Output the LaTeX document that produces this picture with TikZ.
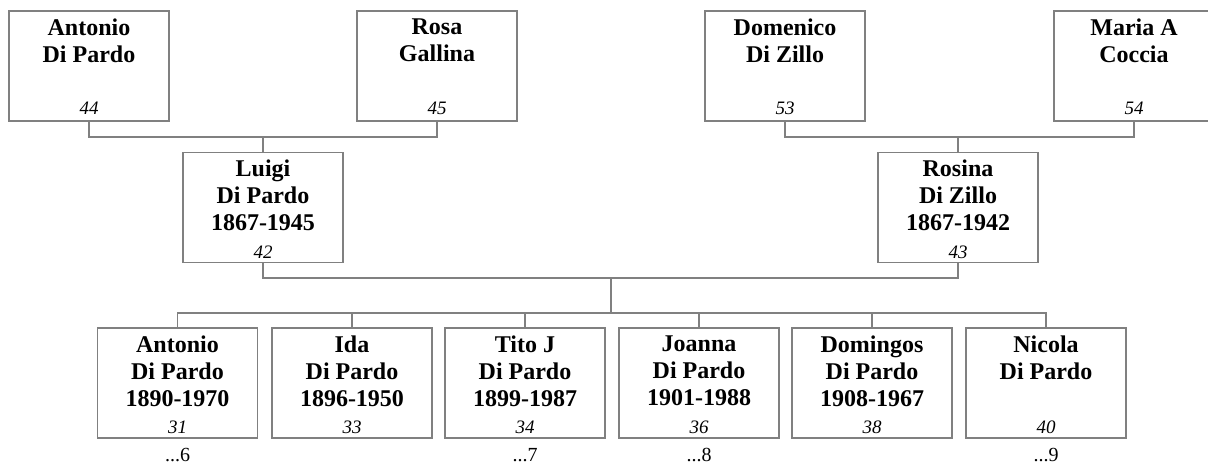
\documentclass[tikz,border=0pt]{standalone}
\usepackage{fontspec}
\setmainfont{Liberation Serif}
\definecolor{linegray}{RGB}{128,128,128}
\tikzset{
 pbox/.style={draw=linegray, line width=1.2pt, minimum width=160pt, minimum height=110pt, inner sep=0pt},
 pname/.style={anchor=north, align=center, inner sep=0pt, font=\fontsize{24}{27}\selectfont\bfseries},
 pnum/.style={anchor=base, inner sep=0pt, font=\fontsize{19}{22}\selectfont\itshape},
 pmore/.style={anchor=base, inner sep=0pt, font=\fontsize{20}{24}\selectfont},
 conn/.style={draw=linegray, line width=1.2pt},
}
\begin{document}
\begin{tikzpicture}[x=1pt,y=-1pt]
\useasboundingbox (0,0) rectangle (1208,464);
% grandparents
\node[pbox] (p44) at (89,66) {};
\node[pname] (t44) at ([yshift=-8pt]p44.north) {Antonio\\Di Pardo};
\node[pnum] (n44) at ([yshift=7pt]p44.south) {44};
\node[pbox] (p45) at (437,66) {};
\node[pname] (t45) at ([yshift=-8pt]p45.north) {Rosa\\Gallina};
\node[pnum] (n45) at ([yshift=7pt]p45.south) {45};
\node[pbox] (p53) at (785,66) {};
\node[pname] (t53) at ([yshift=-8pt]p53.north) {Domenico\\Di Zillo};
\node[pnum] (n53) at ([yshift=7pt]p53.south) {53};
\node[pbox] (p54) at (1134,66) {};
\node[pname] (t54) at ([yshift=-8pt]p54.north) {Maria A\\Coccia};
\node[pnum] (n54) at ([yshift=7pt]p54.south) {54};
% parents
\node[pbox] (p42) at (263,207.5) {};
\node[pname] (t42) at ([yshift=-8pt]p42.north) {Luigi\\Di Pardo\\1867-1945};
\node[pnum] (n42) at ([yshift=5pt]p42.south) {42};
\node[pbox] (p43) at (958,207.5) {};
\node[pname] (t43) at ([yshift=-8pt]p43.north) {Rosina\\Di Zillo\\1867-1942};
\node[pnum] (n43) at ([yshift=5pt]p43.south) {43};
% children
\node[pbox] (c31) at (177.5,383) {};
\node[pname] (t31) at ([yshift=-8pt]c31.north) {Antonio\\Di Pardo\\1890-1970};
\node[pnum] (n31) at ([yshift=5pt]c31.south) {31};
\node[pmore] (m31) at ([yshift=-23pt]c31.south) {...6};
\node[pbox] (c33) at (352,383) {};
\node[pname] (t33) at ([yshift=-8pt]c33.north) {Ida\\Di Pardo\\1896-1950};
\node[pnum] (n33) at ([yshift=5pt]c33.south) {33};
\node[pbox] (c34) at (525,383) {};
\node[pname] (t34) at ([yshift=-8pt]c34.north) {Tito J\\Di Pardo\\1899-1987};
\node[pnum] (n34) at ([yshift=5pt]c34.south) {34};
\node[pmore] (m34) at ([yshift=-23pt]c34.south) {...7};
\node[pbox] (c36) at (699,383) {};
\node[pname] (t36) at ([yshift=-8pt]c36.north) {Joanna\\Di Pardo\\1901-1988};
\node[pnum] (n36) at ([yshift=5pt]c36.south) {36};
\node[pmore] (m36) at ([yshift=-23pt]c36.south) {...8};
\node[pbox] (c38) at (872,383) {};
\node[pname] (t38) at ([yshift=-8pt]c38.north) {Domingos\\Di Pardo\\1908-1967};
\node[pnum] (n38) at ([yshift=5pt]c38.south) {38};
\node[pbox] (c40) at (1046,383) {};
\node[pname] (t40) at ([yshift=-8pt]c40.north) {Nicola\\Di Pardo};
\node[pnum] (n40) at ([yshift=5pt]c40.south) {40};
\node[pmore] (m40) at ([yshift=-23pt]c40.south) {...9};
% connectors
\coordinate (j1) at (263,137);
\coordinate (j2) at (958,137);
\coordinate (j3) at (611,278);
\coordinate (j4) at (611,313);
\draw[conn] (p44.south) |- (j1) -| (p45.south);
\draw[conn] (j1) -- (p42.north);
\draw[conn] (p53.south) |- (j2) -| (p54.south);
\draw[conn] (j2) -- (p43.north);
\draw[conn] (p42.south) |- (j3) -| (p43.south);
\draw[conn] (j3) -- (j4);
\draw[conn] (c31.north) |- (j4) -| (c40.north);
\draw[conn] (c33.north) -- (c33.north |- j4);
\draw[conn] (c34.north) -- (c34.north |- j4);
\draw[conn] (c36.north) -- (c36.north |- j4);
\draw[conn] (c38.north) -- (c38.north |- j4);
\end{tikzpicture}
\end{document}
